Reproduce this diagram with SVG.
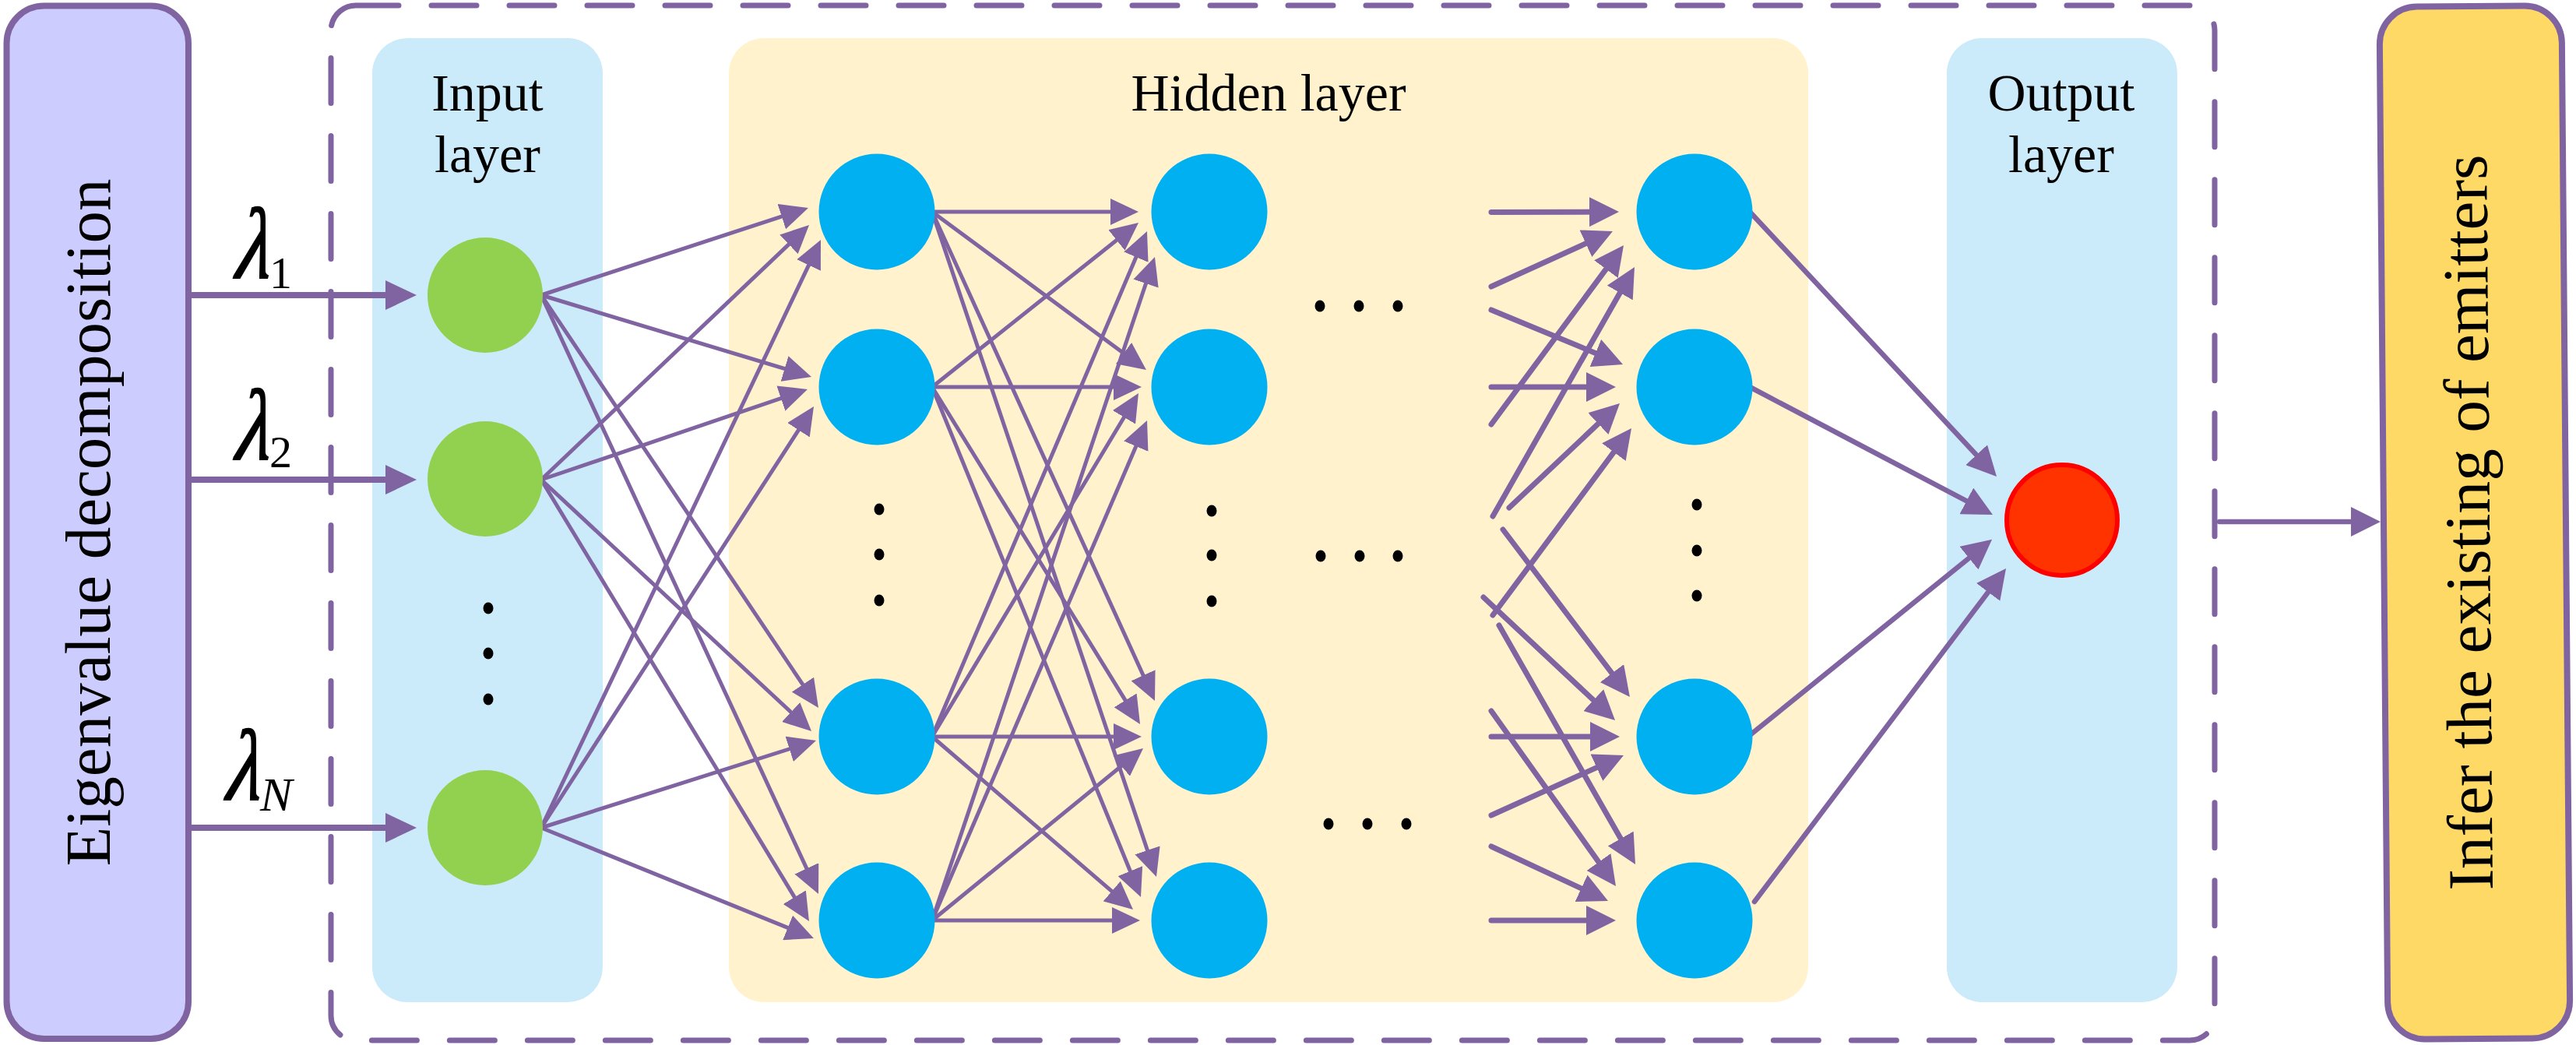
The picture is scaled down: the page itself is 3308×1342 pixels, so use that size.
<svg xmlns="http://www.w3.org/2000/svg" width="3308" height="1342" viewBox="0 0 3308 1342">
<style>
.edge{stroke:#8064A2;fill:none}
.e5{stroke-width:5;marker-end:url(#m36)}
.e7{stroke-width:7;stroke-linecap:round;marker-end:url(#m38)}
.eo{stroke-width:6.5;stroke-linecap:round;marker-end:url(#m38)}
.ein{stroke-width:8;marker-end:url(#m40)}
.g{fill:#92D050}
.b{fill:#00B0F0}
.dot{fill:#000}
.lbl{font-family:"Liberation Serif","Times New Roman",serif;font-size:68px;text-anchor:middle;fill:#000}
.big{font-family:"Liberation Serif","Times New Roman",serif;font-size:83px;text-anchor:middle;fill:#000}
.lam{font-family:"Liberation Serif","Times New Roman",serif;font-size:108px;font-style:italic;fill:#000;stroke:#000;stroke-width:1.5}
.sub{font-family:"Liberation Serif","Times New Roman",serif;font-size:58px;fill:#000}
.subi{font-family:"Liberation Serif","Times New Roman",serif;font-size:62px;font-style:italic;fill:#000}
</style>
<defs>
<marker id="m36" markerUnits="userSpaceOnUse" markerWidth="36" markerHeight="34" viewBox="0 0 36 34" refX="22" refY="17" orient="auto"><path d="M0,0 L36,17 L0,34 z" fill="#8064A2"/></marker>
<marker id="m38" markerUnits="userSpaceOnUse" markerWidth="38" markerHeight="38" viewBox="0 0 38 38" refX="22" refY="19" orient="auto"><path d="M0,0 L38,19 L0,38 z" fill="#8064A2"/></marker>
<marker id="m40" markerUnits="userSpaceOnUse" markerWidth="40" markerHeight="38" viewBox="0 0 40 38" refX="22" refY="19" orient="auto"><path d="M0,0 L40,19 L0,38 z" fill="#8064A2"/></marker>
</defs>
<rect width="3308" height="1342" fill="#FFFFFF"/>

<g id="eigen-box">
<rect x="8.5" y="7.5" width="233.5" height="1326.5" rx="48" fill="#CCCCFF" stroke="#8064A2" stroke-width="8"/>
<text class="big" transform="translate(141,671) rotate(-90)">Eigenvalue decomposition</text>
</g>

<g id="network-frame">
<rect x="425" y="7" width="2419" height="1329" rx="32" fill="none" stroke="#8064A2" stroke-width="7" stroke-dasharray="58 42" stroke-dashoffset="3" stroke-linecap="round"/>
</g>

<g id="input-layer">
<rect x="478" y="49" width="296" height="1238" rx="45" fill="#CCEBFA"/>
<text class="lbl" x="626" y="142">Input</text>
<text class="lbl" x="626" y="221">layer</text>
</g>
<g id="hidden-layer">
<rect x="936" y="49" width="1386" height="1238" rx="45" fill="#FFF2CC"/>
<text class="lbl" x="1629" y="142">Hidden layer</text>
</g>
<g id="output-layer">
<rect x="2500" y="49" width="296" height="1238" rx="45" fill="#CCEBFA"/>
<text class="lbl" x="2647" y="142">Output</text>
<text class="lbl" x="2647" y="221">layer</text>
</g>

<g id="result-box" transform="rotate(-0.475 3178 671)">
<rect x="3061" y="8" width="234" height="1326" rx="48" fill="#FFD966" stroke="#8064A2" stroke-width="8"/>
<text class="big" transform="translate(3197,671) rotate(-90)">Infer the existing of emitters</text>
</g>

<g id="connectors">
<line class="edge ein" x1="242" y1="379" x2="517" y2="379"/>
<line class="edge ein" x1="242" y1="616" x2="517" y2="616"/>
<line class="edge ein" x1="242" y1="1063" x2="517" y2="1063"/>

<line class="edge e5" x1="695" y1="379" x2="1024.7" y2="271.3"/>
<line class="edge e5" x1="695" y1="616" x2="1028.9" y2="298.6"/>
<line class="edge e5" x1="695" y1="1063" x2="1048" y2="320.6"/>
<line class="edge e5" x1="695" y1="379" x2="1028.6" y2="479.9"/>
<line class="edge e5" x1="695" y1="616" x2="1023.7" y2="504.5"/>
<line class="edge e5" x1="695" y1="1063" x2="1037.4" y2="533.8"/>
<line class="edge e5" x1="695" y1="379" x2="1043.2" y2="897.4"/>
<line class="edge e5" x1="695" y1="616" x2="1031.8" y2="929.5"/>
<line class="edge e5" x1="695" y1="1063" x2="1034.7" y2="955.2"/>
<line class="edge e5" x1="695" y1="379" x2="1045.1" y2="1135.3"/>
<line class="edge e5" x1="695" y1="616" x2="1031.7" y2="1171"/>
<line class="edge e5" x1="695" y1="1063" x2="1032" y2="1199.7"/>

<line class="edge e5" x1="1197" y1="272" x2="1448" y2="272"/>
<line class="edge e5" x1="1197" y1="497" x2="1451.1" y2="294.7"/>
<line class="edge e5" x1="1197" y1="946" x2="1467.5" y2="309.9"/>
<line class="edge e5" x1="1197" y1="1182" x2="1478.5" y2="343.3"/>
<line class="edge e5" x1="1197" y1="272" x2="1460.7" y2="466.7"/>
<line class="edge e5" x1="1197" y1="497" x2="1452" y2="497"/>
<line class="edge e5" x1="1197" y1="946" x2="1454.8" y2="517"/>
<line class="edge e5" x1="1197" y1="1182" x2="1467.5" y2="552.9"/>
<line class="edge e5" x1="1197" y1="272" x2="1477.2" y2="887.3"/>
<line class="edge e5" x1="1197" y1="497" x2="1456.7" y2="918.1"/>
<line class="edge e5" x1="1197" y1="946" x2="1452" y2="946"/>
<line class="edge e5" x1="1197" y1="1182" x2="1457.2" y2="969.8"/>
<line class="edge e5" x1="1197" y1="272" x2="1480.5" y2="1112.7"/>
<line class="edge e5" x1="1197" y1="497" x2="1459.7" y2="1139"/>
<line class="edge e5" x1="1197" y1="946" x2="1444.4" y2="1158.9"/>
<line class="edge e5" x1="1197" y1="1182" x2="1450" y2="1182"/>

<line class="edge e7" x1="1915" y1="272.5" x2="2063" y2="272.1"/>
<line class="edge e7" x1="1915" y1="368" x2="2056.4" y2="303.6"/>
<line class="edge e7" x1="1915" y1="545" x2="2075.5" y2="327.9"/>
<line class="edge e7" x1="1917" y1="663" x2="2091.1" y2="356.9"/>
<line class="edge e7" x1="1915" y1="398" x2="2069.2" y2="461.9"/>
<line class="edge e7" x1="1915" y1="497" x2="2059" y2="497"/>
<line class="edge e7" x1="1938" y1="652" x2="2068.4" y2="529"/>
<line class="edge e7" x1="1917" y1="790" x2="2085.5" y2="562.9"/>
<line class="edge e7" x1="1905" y1="767" x2="2062.3" y2="914.1"/>
<line class="edge e7" x1="1930" y1="680" x2="2083.3" y2="882.2"/>
<line class="edge e7" x1="1915" y1="946" x2="2064" y2="946"/>
<line class="edge e7" x1="1915" y1="1047" x2="2070.4" y2="976.6"/>
<line class="edge e7" x1="1925" y1="803" x2="2092.1" y2="1096.1"/>
<line class="edge e7" x1="1915" y1="913" x2="2065.7" y2="1125"/>
<line class="edge e7" x1="1915" y1="1087" x2="2050.5" y2="1150.2"/>
<line class="edge e7" x1="1915" y1="1182" x2="2059" y2="1182"/>

<line class="edge eo" x1="2247" y1="272" x2="2553.1" y2="600.3"/>
<line class="edge eo" x1="2247" y1="497" x2="2544.8" y2="653.6"/>
<line class="edge eo" x1="2246" y1="945" x2="2545.6" y2="702.9"/>
<line class="edge eo" x1="2253" y1="1158" x2="2566.4" y2="742.8"/>

<line class="edge eo" x1="2850" y1="670" x2="3041" y2="670"/>
</g>

<g id="lambda-labels">
<text class="lam" transform="translate(302,357) scale(0.95,1.2) skewX(-9)">λ</text>
<text class="sub" x="346" y="370">1</text>
<text class="lam" transform="translate(302,590) scale(0.95,1.2) skewX(-9)">λ</text>
<text class="sub" x="346" y="600">2</text>
<text class="lam" transform="translate(290,1027) scale(0.95,1.2) skewX(-9)">λ</text>
<text class="subi" x="334" y="1041">N</text>
</g>

<g id="in1"><circle class="g" cx="623" cy="379" r="74"/></g>
<g id="in2"><circle class="g" cx="623" cy="615" r="74"/></g>
<g id="inN"><circle class="g" cx="623" cy="1063" r="74"/></g>
<g id="in-dots"><ellipse class="dot" cx="627" cy="781" rx="6.5" ry="7.5"/><ellipse class="dot" cx="627" cy="839" rx="6.5" ry="7.5"/><ellipse class="dot" cx="627" cy="898" rx="6.5" ry="7.5"/></g>

<g id="h1-1"><circle class="b" cx="1126" cy="272" r="74.5"/></g>
<g id="h1-2"><circle class="b" cx="1126" cy="497" r="74.5"/></g>
<g id="h1-3"><circle class="b" cx="1126" cy="946" r="74.5"/></g>
<g id="h1-4"><circle class="b" cx="1126" cy="1182" r="74.5"/></g>
<g id="h1-dots"><ellipse class="dot" cx="1129" cy="654" rx="6.5" ry="7.5"/><ellipse class="dot" cx="1129" cy="712" rx="6.5" ry="7.5"/><ellipse class="dot" cx="1129" cy="771" rx="6.5" ry="7.5"/></g>

<g id="h2-1"><circle class="b" cx="1553" cy="272" r="74.5"/></g>
<g id="h2-2"><circle class="b" cx="1553" cy="497" r="74.5"/></g>
<g id="h2-3"><circle class="b" cx="1553" cy="946" r="74.5"/></g>
<g id="h2-4"><circle class="b" cx="1553" cy="1182" r="74.5"/></g>
<g id="h2-dots"><ellipse class="dot" cx="1556" cy="656" rx="6.5" ry="7.5"/><ellipse class="dot" cx="1556" cy="713" rx="6.5" ry="7.5"/><ellipse class="dot" cx="1556" cy="772" rx="6.5" ry="7.5"/></g>

<g id="h-ellipsis">
<ellipse class="dot" cx="1695" cy="393" rx="6.5" ry="7.5"/><ellipse class="dot" cx="1745" cy="393" rx="6.5" ry="7.5"/><ellipse class="dot" cx="1795" cy="393" rx="6.5" ry="7.5"/>
<ellipse class="dot" cx="1696" cy="714" rx="6.5" ry="7.5"/><ellipse class="dot" cx="1746" cy="714" rx="6.5" ry="7.5"/><ellipse class="dot" cx="1795" cy="714" rx="6.5" ry="7.5"/>
<ellipse class="dot" cx="1706" cy="1058" rx="6.5" ry="7.5"/><ellipse class="dot" cx="1756" cy="1058" rx="6.5" ry="7.5"/><ellipse class="dot" cx="1806" cy="1058" rx="6.5" ry="7.5"/>
</g>

<g id="h3-1"><circle class="b" cx="2176" cy="272" r="74.5"/></g>
<g id="h3-2"><circle class="b" cx="2176" cy="497" r="74.5"/></g>
<g id="h3-3"><circle class="b" cx="2176" cy="946" r="74.5"/></g>
<g id="h3-4"><circle class="b" cx="2176" cy="1182" r="74.5"/></g>
<g id="h3-dots"><ellipse class="dot" cx="2179" cy="648" rx="6.5" ry="7.5"/><ellipse class="dot" cx="2179" cy="707" rx="6.5" ry="7.5"/><ellipse class="dot" cx="2179" cy="765" rx="6.5" ry="7.5"/></g>

<g id="out"><circle cx="2648" cy="668" r="71" fill="#FF3300" stroke="#FF0000" stroke-width="6"/></g>
</svg>
